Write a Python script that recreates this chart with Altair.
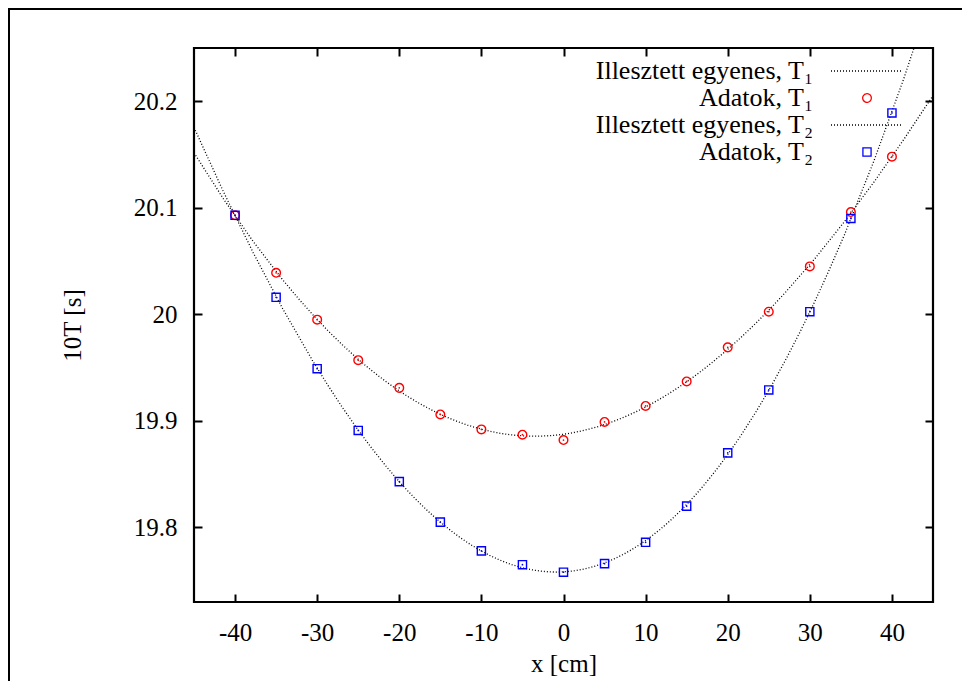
import altair as alt
import pandas as pd

# ---- data ----
x_cm = [-40, -35, -30, -25, -20, -15, -10, -5, 0, 5, 10, 15, 20, 25, 30, 35, 40]
T1 = [20.093, 20.039, 19.995, 19.957, 19.931, 19.906, 19.892, 19.887, 19.882,
      19.899, 19.914, 19.937, 19.969, 20.0025, 20.045, 20.096, 20.148]
T2 = [20.093, 20.016, 19.949, 19.891, 19.843, 19.805, 19.778, 19.765, 19.758,
      19.766, 19.786, 19.820, 19.870, 19.929, 20.0025, 20.090, 20.189]

FIT1 = "Illesztett egyenes, T\u2081"
DAT1 = "Adatok, T\u2081"
FIT2 = "Illesztett egyenes, T\u2082"
DAT2 = "Adatok, T\u2082"
legend_order = [FIT1, DAT1, FIT2, DAT2]
legend_colors = ["black", "red", "black", "blue"]

x_ticks = [-40, -30, -20, -10, 0, 10, 20, 30, 40]
y_ticks = [19.8, 19.9, 20.0, 20.1, 20.2]

df = pd.DataFrame({
    "x": x_cm + x_cm,
    "y": T1 + T2,
    "adat": [DAT1] * len(x_cm) + [DAT2] * len(x_cm),
    "fit": [FIT1] * len(x_cm) + [FIT2] * len(x_cm),
})

FONT = "Liberation Serif, Times New Roman, Times, DejaVu Serif, serif"
LINE = "M-6,0H6"
CIRC = "M0.72,0A0.72,0.72,0,1,1,-0.72,0A0.72,0.72,0,1,1,0.72,0Z"
SQR = "M-0.68,-0.68H0.68V0.68H-0.68Z"

xscale = alt.Scale(domain=[-45, 45], nice=False, zero=False)
yscale = alt.Scale(domain=[19.73, 20.25], nice=False, zero=False)
color_scale = alt.Scale(domain=legend_order, range=legend_colors)
shape_scale = alt.Scale(domain=legend_order, range=[LINE, CIRC, LINE, SQR])
dash_scale = alt.Scale(domain=legend_order, range=[[1, 2], [1, 0], [1, 2], [1, 0]])

leg = alt.Legend(
    title=None, orient="none", legendX=660, legendY=10, padding=0,
    labelFont=FONT, labelFontSize=26, labelColor="black", labelAlign="right",
    labelBaseline="middle", labelOffset={"expr": "-67"}, labelLimit=0,
    symbolSize=144, symbolStrokeWidth=1.3, symbolOffset=0,
    rowPadding=1,
    symbolOpacity=1, symbolFillColor="transparent",
)

TICK = {"expr": "-8"}

bottom_axis = alt.Axis(
    orient="bottom", values=x_ticks, labelExpr="'' + datum.value",
    tickSize=TICK, tickWidth=2, tickColor="black", labelPadding=26,
    labelFont=FONT, labelFontSize=25, labelColor="black", labelFlush=False,
    domain=False, grid=False,
    title="x [cm]", titleFont=FONT, titleFontSize=25, titleFontWeight="normal",
    titleColor="black", titleX=369.5, titleY=61, titleBaseline="middle",
    titleAlign="center", titleAngle=0,
)
left_axis = alt.Axis(
    orient="left", values=y_ticks, format=".3~r",
    tickSize=TICK, tickWidth=2, tickColor="black", labelPadding=25,
    labelFont=FONT, labelFontSize=25, labelColor="black",
    domain=False, grid=False,
    title="10T [s]", titleFont=FONT, titleFontSize=25, titleFontWeight="normal",
    titleColor="black", titleX=-122, titleY=277, titleBaseline="middle",
    titleAlign="center", titleAngle=270,
)
top_axis = alt.Axis(
    orient="top", values=x_ticks, labels=False, title=None,
    tickSize=TICK, tickWidth=2, tickColor="black", domain=False, grid=False,
)
right_axis = alt.Axis(
    orient="right", values=y_ticks, labels=False, title=None,
    tickSize=TICK, tickWidth=2, tickColor="black", domain=False, grid=False,
)

frame = alt.Chart(pd.DataFrame({"frame": [1]})).mark_rect(
    fillOpacity=0, stroke="black", strokeWidth=3, clip=False
).encode(
    x=alt.value(-185.5), x2=alt.value(900), y=alt.value(-39.5), y2=alt.value(700)
)

lines = alt.Chart(df).transform_regression(
    "x", "y", method="poly", order=4, groupby=["fit"], extent=[-45, 45]
).mark_line(strokeWidth=1.3, clip=True).encode(
    x=alt.X("x:Q", scale=xscale, axis=top_axis),
    y=alt.Y("y:Q", scale=yscale, axis=right_axis),
    color=alt.Color("fit:N", scale=color_scale, legend=leg),
    strokeDash=alt.StrokeDash("fit:N", scale=dash_scale, legend=leg),
)

points = alt.Chart(df).mark_point(
    filled=False, size=144, strokeWidth=1.4, opacity=1
).encode(
    x=alt.X("x:Q", scale=xscale, axis=bottom_axis),
    y=alt.Y("y:Q", scale=yscale, axis=left_axis),
    color=alt.Color("adat:N", scale=color_scale, legend=leg),
    shape=alt.Shape("adat:N", scale=shape_scale, legend=leg),
)

dots = alt.Chart(df).mark_point(filled=True, size=3, shape="circle", opacity=1).encode(
    x=alt.X("x:Q", scale=xscale, axis=None),
    y=alt.Y("y:Q", scale=yscale, axis=None),
    fill=alt.Fill("adat:N", scale=alt.Scale(domain=[DAT1, DAT2], range=["red", "blue"]), legend=None),
)

chart = alt.layer(frame, lines, points, dots).properties(
    width=739, height=554, autosize="none",
    padding={"left": 186, "top": 40, "right": 29, "bottom": 79},
    background="white",
).configure_view(stroke="black", strokeWidth=2.2)

chart.save("out.html", embed_options={"renderer": "svg", "actions": False})
